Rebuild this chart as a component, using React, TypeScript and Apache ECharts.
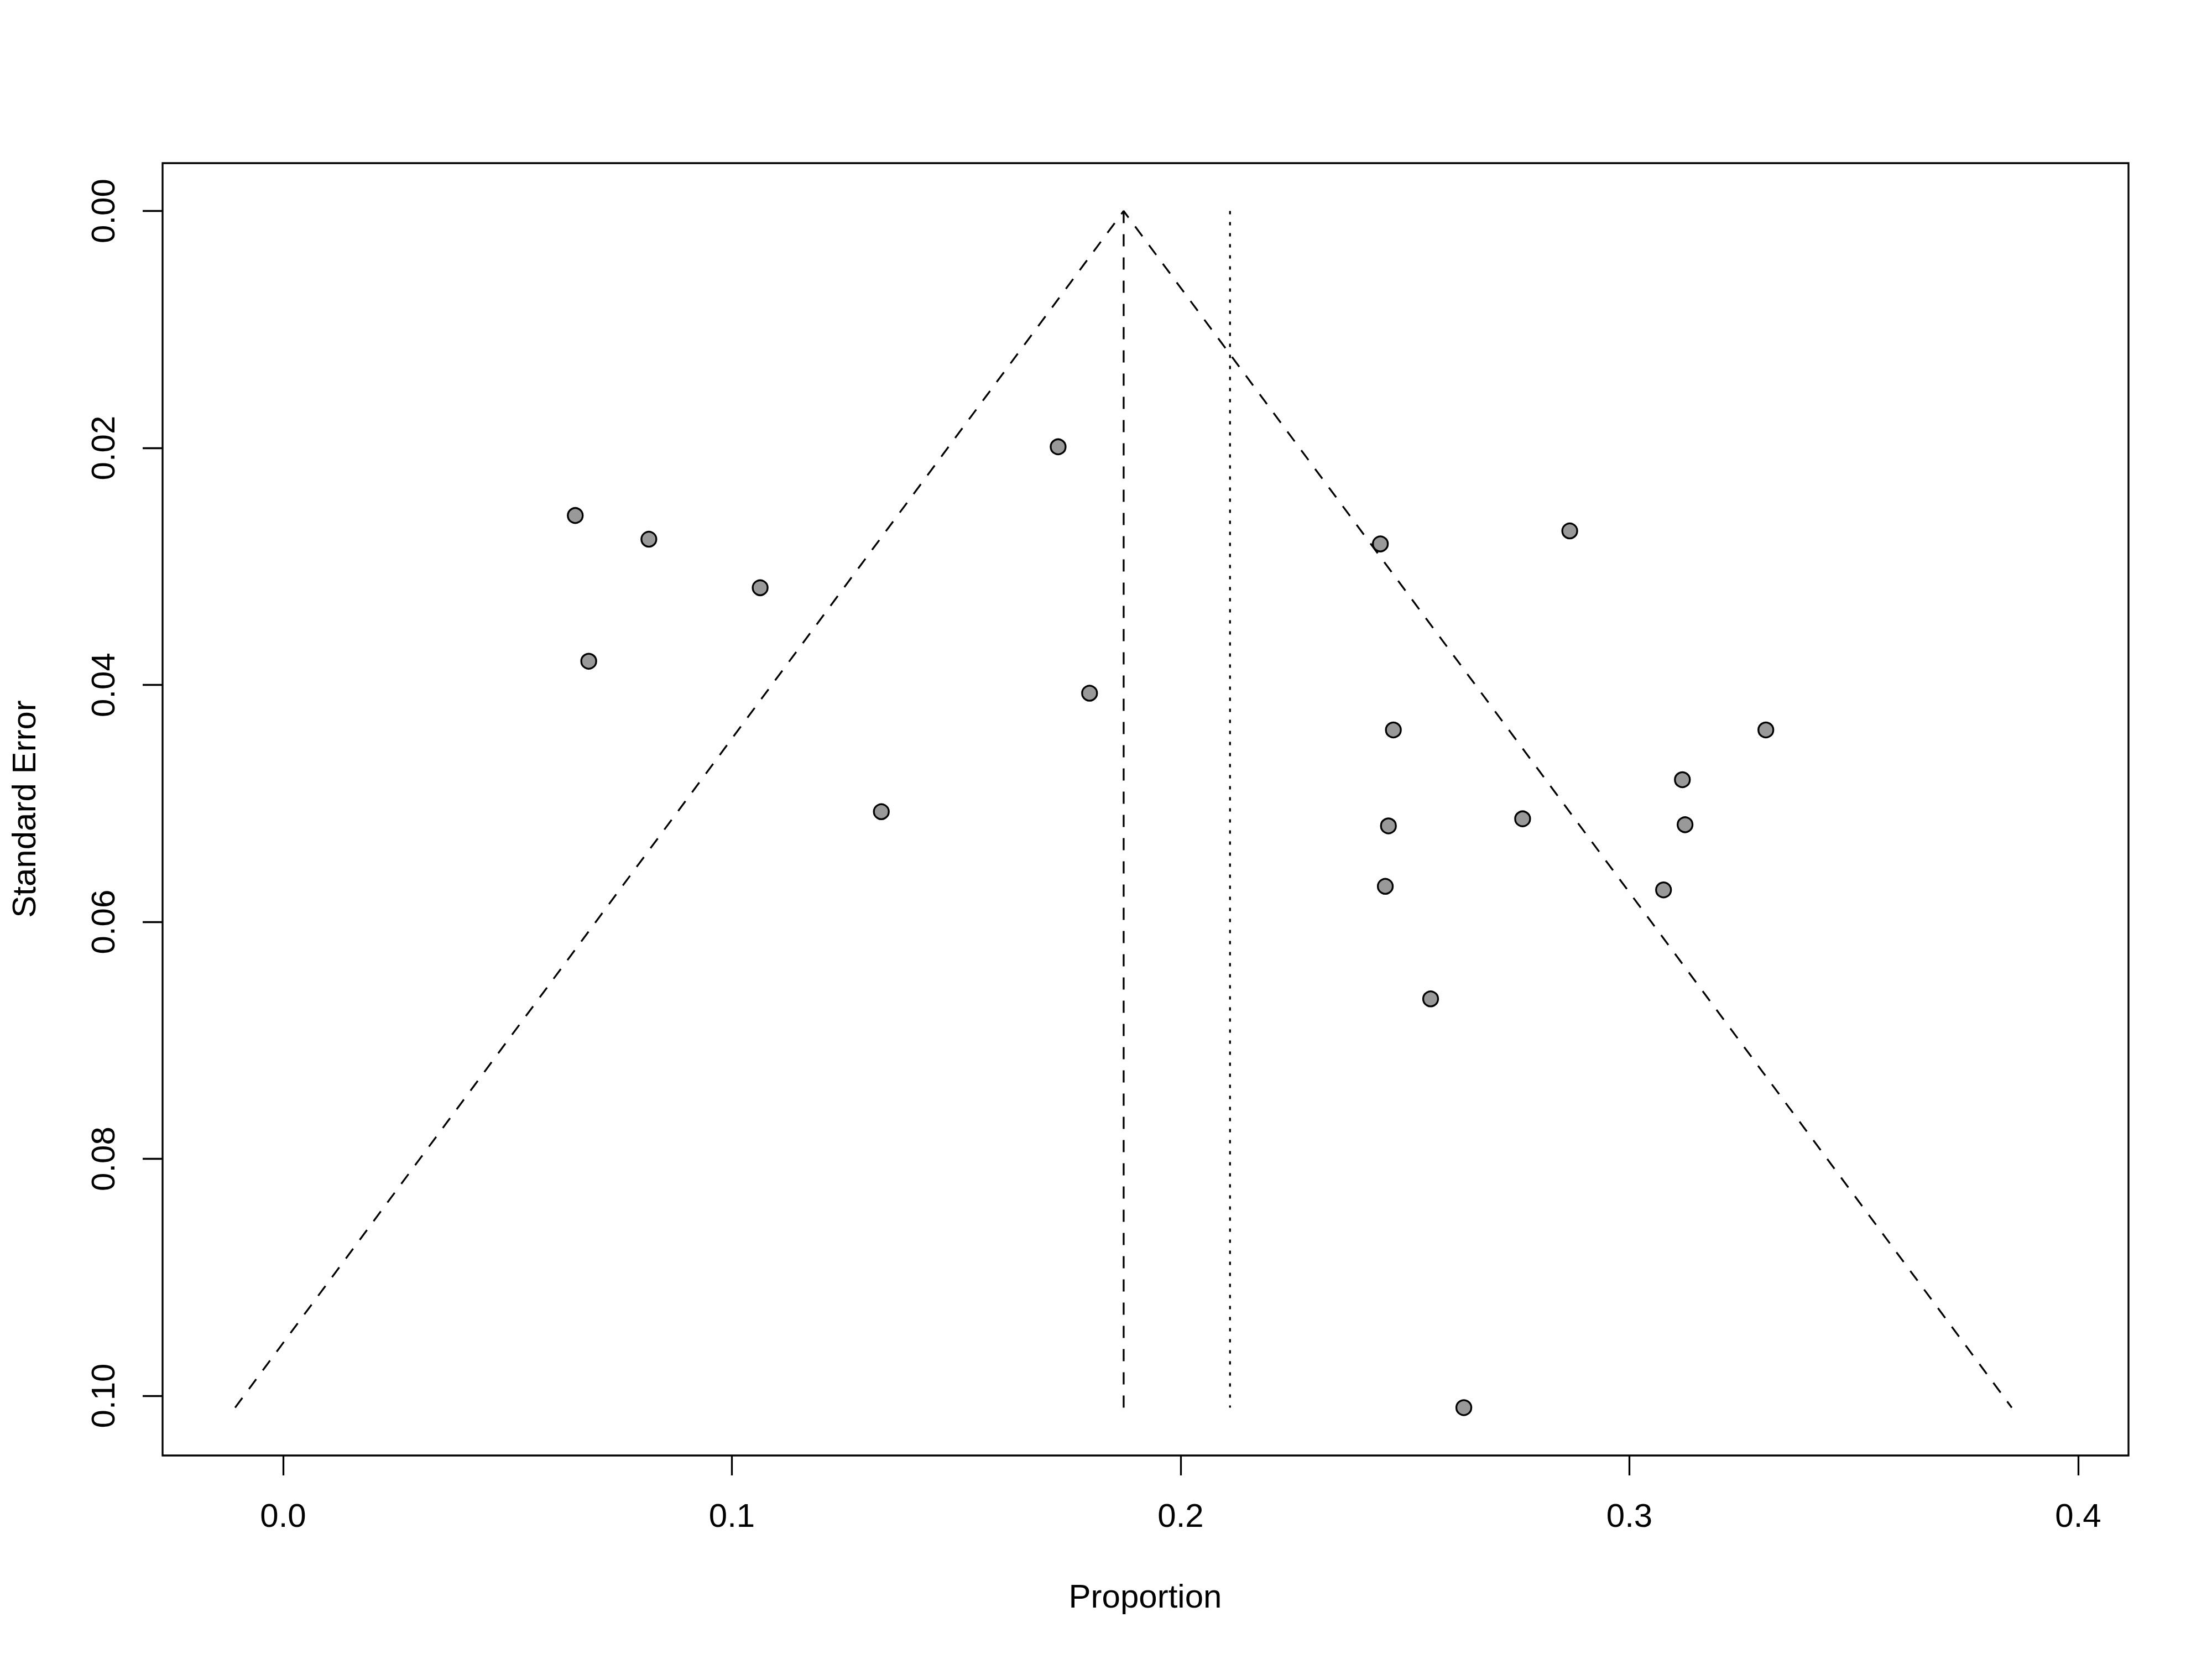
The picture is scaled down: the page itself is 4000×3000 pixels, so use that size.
import React, { useEffect, useRef } from "react";
import * as echarts from "echarts";

// Study estimates (proportion) and their standard errors
const proportions = [
  0.0651, 0.0815, 0.1063, 0.0681, 0.1333, 0.1727, 0.1797,
  0.2445, 0.2867, 0.2474, 0.3304, 0.3118, 0.2762, 0.2463,
  0.3124, 0.2456, 0.3076, 0.2557, 0.2631,
];
const standardErrors = [
  0.0257, 0.0277, 0.0318, 0.0380, 0.0507, 0.0199, 0.0407,
  0.0281, 0.0270, 0.0438, 0.0438, 0.0480, 0.0513, 0.0519,
  0.0518, 0.0570, 0.0573, 0.0665, 0.1010,
];

// Funnel (pseudo-confidence region) vertices
const funnelX = [-0.0107, 0.1873, 0.3852];
const funnelSE = [0.101, 0, 0.101];
// Reference lines
const pooledEstimate = 0.1873; // dashed vertical line
const otherEstimate = 0.2110; // dotted vertical line
const lineSE = [0, 0.101];

// Axis ticks
const xTicks = [0, 0.1, 0.2, 0.3, 0.4];
const yTicks = [0, 0.02, 0.04, 0.06, 0.08, 0.1];
const xRange = [-0.02686, 0.41121];
const yRange = [-0.00404, 0.10504];

const FONT = "'Liberation Sans', Arial, Helvetica, sans-serif";

export default function App() {
  const ref = useRef<HTMLDivElement>(null);

  useEffect(() => {
    if (!ref.current) return;
    const chart = echarts.init(ref.current, undefined, { renderer: "svg" });

    const scatterData = proportions.map((p, i) => [p, standardErrors[i]]);
    const funnelData = funnelX.map((x, i) => [x, funnelSE[i]]);
    const pooledData = lineSE.map((s) => [pooledEstimate, s]);
    const otherData = lineSE.map((s) => [otherEstimate, s]);

    chart.setOption({
      animation: false,
      backgroundColor: "#ffffff",
      grid: {
        left: 294,
        top: 295,
        right: 151,
        bottom: 368,
        show: true,
        borderColor: "#000000",
        borderWidth: 3.3,
        backgroundColor: "transparent",
      },
      xAxis: {
        type: "value",
        position: "bottom",
        min: xRange[0],
        max: xRange[1],
        axisLine: { show: false, onZero: false },
        splitLine: { show: false },
        axisTick: {
          show: true,
          inside: false,
          length: 36,
          customValues: xTicks,
          lineStyle: { color: "#000", width: 3.3 },
        },
        axisLabel: {
          customValues: xTicks,
          formatter: (v: number) => v.toFixed(1),
          margin: 78,
          fontSize: 60,
          fontFamily: FONT,
          color: "#000",
        },
      },
      yAxis: {
        type: "value",
        position: "left",
        inverse: true,
        min: yRange[0],
        max: yRange[1],
        axisLine: { show: false, onZero: false },
        splitLine: { show: false },
        axisTick: {
          show: true,
          inside: false,
          length: 36,
          customValues: yTicks,
          lineStyle: { color: "#000", width: 3.3 },
        },
        axisLabel: {
          customValues: yTicks,
          formatter: (v: number) => v.toFixed(2),
          rotate: 90,
          margin: 78,
          fontSize: 60,
          fontFamily: FONT,
          color: "#000",
        },
      },
      graphic: [
        {
          type: "text",
          x: 2071,
          y: 2886,
          style: {
            text: "Proportion",
            fontSize: 60,
            fontFamily: FONT,
            fill: "#000",
            textAlign: "center",
            textVerticalAlign: "middle",
          },
        },
        {
          type: "text",
          x: 43,
          y: 1463,
          rotation: Math.PI / 2,
          style: {
            text: "Standard Error",
            fontSize: 60,
            fontFamily: FONT,
            fill: "#000",
            textAlign: "center",
            textVerticalAlign: "middle",
          },
        },
      ],
      series: [
        {
          type: "line",
          data: funnelData,
          symbol: "none",
          silent: true,
          z: 2,
          lineStyle: { color: "#000", width: 3.3, type: [22, 20] },
        },
        {
          type: "line",
          data: pooledData,
          symbol: "none",
          silent: true,
          z: 2,
          lineStyle: { color: "#000", width: 3.3, type: [22, 20] },
        },
        {
          type: "line",
          data: otherData,
          symbol: "none",
          silent: true,
          z: 2,
          lineStyle: { color: "#000", width: 3.3, type: [6, 14] },
        },
        {
          type: "scatter",
          data: scatterData,
          symbol: "circle",
          symbolSize: 27,
          z: 3,
          itemStyle: {
            color: "#999999",
            borderColor: "#000000",
            borderWidth: 3.3,
            opacity: 1,
          },
        },
      ],
    });

    return () => chart.dispose();
  }, []);

  return (
    <div
      ref={ref}
      style={{ position: "absolute", left: 0, top: 0, width: 4000, height: 3000 }}
    />
  );
}
